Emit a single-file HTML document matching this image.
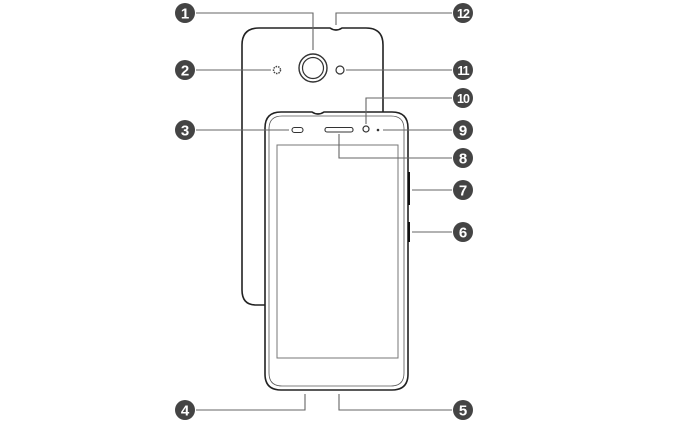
<!DOCTYPE html>
<html><head><style>html,body{margin:0;padding:0;background:#fff;width:678px;height:423px;overflow:hidden}</style></head>
<body>
<svg width="678" height="423" viewBox="0 0 678 423" xmlns="http://www.w3.org/2000/svg">
<g fill="none" stroke="#222" stroke-width="1.6">
<path d="M265,305 L256,305 Q242,305 242,290 L242,45 Q242,28 259,28 L330,28 Q336,32 342,28 L366,28 Q383,28 383,45 L383,112"/>
<path d="M281,112 L312,112 Q318,116 324,112 L392,112 Q408,112 408,128 L408,374 Q408,390 392,390 L281,390 Q265,390 265,374 L265,128 Q265,112 281,112 Z"/>
</g>
<path d="M282,116 L391,116 Q404,116 404,129 L404,373 Q404,386 391,386 L282,386 Q269,386 269,373 L269,129 Q269,116 282,116 Z" fill="none" stroke="#555" stroke-width="0.8"/>
<rect x="277" y="145" width="121" height="213" fill="none" stroke="#777" stroke-width="1"/>
<line x1="409" y1="172" x2="409" y2="205" stroke="#111" stroke-width="2"/>
<line x1="409" y1="222" x2="409" y2="242" stroke="#111" stroke-width="2"/>
<circle cx="313" cy="68" r="14" fill="none" stroke="#333" stroke-width="1.4"/>
<circle cx="313" cy="68" r="10.5" fill="none" stroke="#333" stroke-width="1.2"/>
<circle cx="277" cy="70" r="3.5" fill="none" stroke="#444" stroke-width="1.5" stroke-dasharray="1.5 1"/>
<circle cx="340" cy="70" r="4" fill="none" stroke="#333" stroke-width="1.2"/>
<circle cx="366" cy="129" r="3" fill="none" stroke="#333" stroke-width="1.2"/>
<rect x="292" y="127.5" width="11" height="5" rx="2.5" fill="none" stroke="#333" stroke-width="1.1"/>
<rect x="325" y="127.5" width="28" height="4.5" rx="2" fill="none" stroke="#333" stroke-width="1.1"/>
<circle cx="378" cy="130" r="1.3" fill="#333"/>
<g fill="none" stroke="#666" stroke-width="1.1">
<path d="M196,13 H313 V50"/>
<path d="M452,13 H336 V25"/>
<path d="M196,70 H271"/>
<path d="M346,70 H452"/>
<path d="M452,98 H366 V124"/>
<path d="M196,130 H289"/>
<path d="M383,130 H452"/>
<path d="M339,134 V158 H452"/>
<path d="M412,190 H452"/>
<path d="M412,232 H452"/>
<path d="M196,410 H305 V394"/>
<path d="M452,410 H339 V394"/>
</g>
<g fill="#444">
<circle cx="185" cy="13" r="10"/><circle cx="463" cy="13" r="10"/>
<circle cx="185" cy="70" r="10"/><circle cx="463" cy="70" r="10"/>
<circle cx="463" cy="98" r="10"/>
<circle cx="185" cy="130" r="10"/><circle cx="463" cy="130" r="10"/>
<circle cx="463" cy="158" r="10"/><circle cx="463" cy="190" r="10"/>
<circle cx="463" cy="232" r="10"/>
<circle cx="185" cy="410" r="10"/><circle cx="463" cy="410" r="10"/>
</g>
<g fill="#fff" font-family="Liberation Sans, sans-serif" font-weight="bold" font-size="15" text-anchor="middle">
<text x="185" y="18.5">1</text><text x="463" y="18" font-size="12.5" letter-spacing="-1">12</text>
<text x="185" y="75.5">2</text><text x="463" y="75" font-size="12.5" letter-spacing="-1">11</text>
<text x="463" y="103" font-size="12.5" letter-spacing="-1">10</text>
<text x="185" y="135.5">3</text><text x="463" y="135.5">9</text>
<text x="463" y="163.5">8</text><text x="463" y="195.5">7</text>
<text x="463" y="237.5">6</text>
<text x="185" y="415.5">4</text><text x="463" y="415.5">5</text>
</g>
</svg>
</body></html>
